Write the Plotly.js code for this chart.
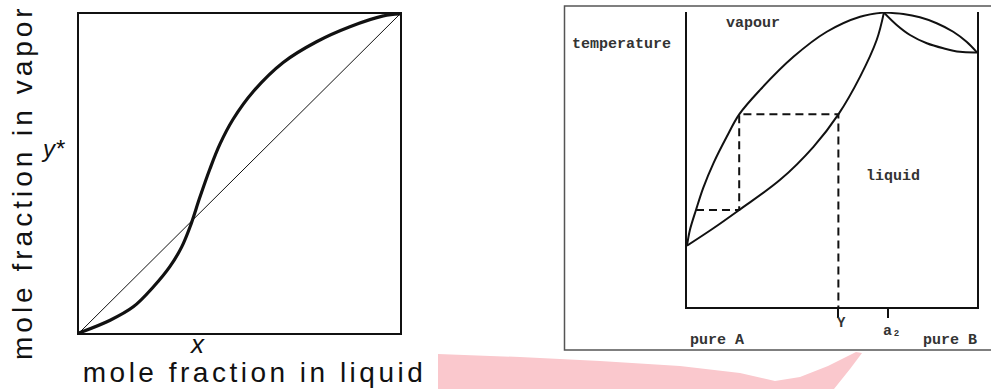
<!DOCTYPE html>
<html>
<head>
<meta charset="utf-8">
<script src="https://cdn.plot.ly/plotly-3.0.1.min.js"></script>
<style>
html,body{margin:0;padding:0;background:#fff;}
#chart{width:991px;height:389px;}
</style>
</head>
<body>
<div id="chart"></div>
<script>
// ---------- Left chart: x-y equilibrium (mole fraction) ----------
const xLiquid = [0, 0.097, 0.169, 0.232, 0.283, 0.32, 0.346, 0.377, 0.408, 0.439, 0.48, 0.543, 0.636, 0.74, 0.844, 0.948, 1];
const yVapor  = [0, 0.04, 0.082, 0.145, 0.208, 0.27, 0.333, 0.427, 0.515, 0.592, 0.67, 0.757, 0.848, 0.913, 0.96, 0.994, 1];
const diagX = [0, 1];
const diagY = [0, 1];

// ---------- Right chart: temperature-composition diagram ----------
const dewX  = [0, 0.010, 0.031, 0.056, 0.091, 0.137, 0.180, 0.252, 0.367, 0.482, 0.597, 0.679];
const dewT  = [20.8, 26.1, 32.9, 40.4, 48.7, 57.7, 65.3, 73.6, 84.8, 93.3, 98.4, 99.8];
const bubX  = [0, 0.091, 0.180, 0.321, 0.436, 0.522, 0.597, 0.654, 0.679];
const bubT  = [20.8, 26.7, 32.9, 43.1, 54.3, 65.3, 78.1, 90.5, 99.8];
const rightUpX = [0.679, 0.746, 0.803, 0.861, 0.918, 0.964, 1.0];
const rightUpT = [99.8, 99.3, 98.2, 96.2, 93.3, 89.9, 86.3];
const rightLoX = [0.679, 0.723, 0.769, 0.827, 0.884, 0.941, 1.0];
const rightLoT = [99.8, 95.6, 92.2, 89.4, 87.7, 86.5, 86.3];
const stepX = [0.031, 0.180, 0.180, 0.522, 0.522];
const stepT = [32.9, 32.9, 65.3, 65.3, 0];
const tickPos = [0.522, 0.694];
const labels = {Y: 'Y', a2: 'a₂', pureA: 'pure A', pureB: 'pure B',
  temp: 'temperature', vapour: 'vapour', liquid: 'liquid',
  yTitle: 'mole fraction in vapor', xTitle: 'mole fraction in liquid', x: 'x', y: 'y*'};

const W = 991, H = 389;
const px = v => v / W;
const py = v => 1 - v / H;

const blk = '#111';
const traces = [
  {x: diagX, y: diagY, xaxis: 'x', yaxis: 'y', mode: 'lines', line: {color: blk, width: 1}},
  {x: xLiquid, y: yVapor, xaxis: 'x', yaxis: 'y', mode: 'lines', line: {color: blk, width: 3.2, shape: 'spline', smoothing: 1}},
  {x: dewX, y: dewT, xaxis: 'x2', yaxis: 'y2', mode: 'lines', line: {color: blk, width: 2, shape: 'spline', smoothing: 1}},
  {x: bubX, y: bubT, xaxis: 'x2', yaxis: 'y2', mode: 'lines', line: {color: blk, width: 2, shape: 'spline', smoothing: 1}},
  {x: rightUpX, y: rightUpT, xaxis: 'x2', yaxis: 'y2', mode: 'lines', line: {color: blk, width: 2, shape: 'spline', smoothing: 1}},
  {x: rightLoX, y: rightLoT, xaxis: 'x2', yaxis: 'y2', mode: 'lines', line: {color: blk, width: 2, shape: 'spline', smoothing: 1}},
  {x: stepX, y: stepT, xaxis: 'x2', yaxis: 'y2', mode: 'lines', line: {color: blk, width: 2, dash: '8px,5px'}}
];

const mono = {family: 'Liberation Mono, DejaVu Sans Mono, monospace', size: 15, color: '#333', weight: 'bold'};
const sans = {family: 'Liberation Sans, Arial, sans-serif', size: 28, color: blk};
const ital = s => ({family: 'Liberation Sans, Arial, sans-serif', size: s, color: blk, style: 'italic'});

function ann(text, x, y, font, extra) {
  return Object.assign({text: text, x: px(x), y: py(y), xref: 'paper', yref: 'paper',
    xanchor: 'center', yanchor: 'middle', showarrow: false, font: font}, extra || {});
}

const annotations = [
  ann(labels.yTitle, 23, 182, sans, {textangle: -90}),
  ann(labels.xTitle, 254, 372, sans),
  ann(labels.x, 197, 344, ital(26)),
  ann(labels.y, 53, 148, ital(24)),
  ann(labels.temp, 621, 44, mono),
  ann(labels.vapour, 753, 23, mono),
  ann(labels.liquid, 893, 177, mono),
  ann(labels.Y, 841, 323, Object.assign({}, mono, {size: 14})),
  ann(labels.a2, 892, 331, Object.assign({}, mono, {size: 15})),
  ann(labels.pureA, 717, 340, mono),
  ann(labels.pureB, 950, 340, mono)
];

function pathPx(pts) {
  return 'M' + pts.map(p => px(p[0]).toFixed(5) + ',' + py(p[1]).toFixed(5)).join('L') + 'Z';
}

const shapes = [
  {type: 'rect', xref: 'paper', yref: 'paper', x0: px(564.5), x1: px(998), y0: py(350), y1: py(6),
    line: {color: '#555', width: 1.5}, fillcolor: 'rgba(0,0,0,0)'},
  {type: 'path', xref: 'paper', yref: 'paper', layer: 'below', line: {width: 0}, fillcolor: '#fac8cd',
    path: pathPx([[438,354],[520,357],[600,361],[680,366],[740,373],[775,381],[800,377],[828,366],[856,352],[862,353],[850,369],[834,389],[438,389]])}
];

const layout = {
  width: W, height: H,
  margin: {l: 0, r: 0, t: 0, b: 0},
  paper_bgcolor: '#fff', plot_bgcolor: 'rgba(0,0,0,0)',
  showlegend: false,
  xaxis: {domain: [px(79), px(400)], range: [0, 1], anchor: 'y', showline: true, mirror: true, linewidth: 2, linecolor: blk,
    showgrid: false, zeroline: false, showticklabels: false, ticks: ''},
  yaxis: {domain: [py(333), py(14)], range: [0, 1], anchor: 'x', showline: true, mirror: true, linewidth: 2, linecolor: blk,
    showgrid: false, zeroline: false, showticklabels: false, ticks: ''},
  xaxis2: {domain: [px(687), px(977)], range: [0, 1], anchor: 'y2', showline: true, linewidth: 2, linecolor: blk,
    showgrid: false, zeroline: false, showticklabels: false, ticks: 'outside', tickvals: tickPos, ticklen: 9, tickwidth: 2, tickcolor: blk},
  yaxis2: {domain: [py(307), py(12)], range: [0, 100], anchor: 'x2', showline: true, mirror: true, linewidth: 2, linecolor: blk,
    showgrid: false, zeroline: false, showticklabels: false, ticks: ''},
  annotations: annotations,
  shapes: shapes
};

Plotly.newPlot('chart', traces, layout, {staticPlot: true, displayModeBar: false}).then(function (gd) {
  const t = gd.querySelectorAll('.annotation-text');
  if (t[0]) t[0].style.letterSpacing = '4px';
  if (t[1]) t[1].style.letterSpacing = '3.5px';
});
</script>
</body>
</html>
